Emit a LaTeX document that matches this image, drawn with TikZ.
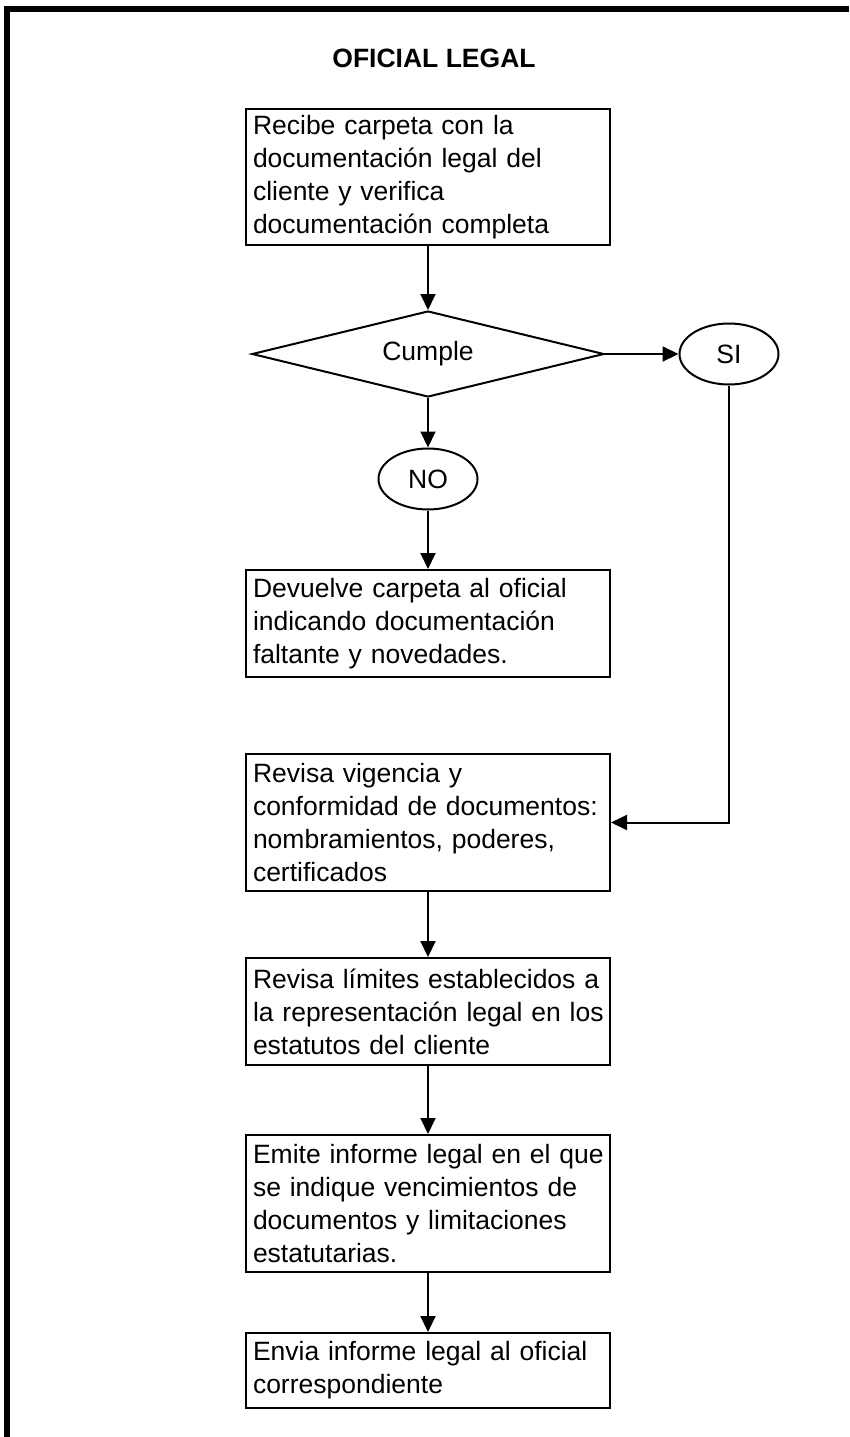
\documentclass[tikz,border=0pt]{standalone}
\usepackage{fontspec}
\setmainfont{Liberation Sans}
\usetikzlibrary{shapes.geometric,arrows.meta}
\newcommand\lin[1]{\mbox{#1}}
\begin{document}
\begin{tikzpicture}[x=1pt,y=-1pt,
  every node/.style={font=\fontsize{26.5}{33}\selectfont},
  stepbox/.style={draw,line width=2pt,minimum width=364pt,text width=350pt,align=left,inner sep=0pt,inner xsep=7pt},
  decide/.style={draw,diamond,line width=2pt,aspect=4.09,minimum width=352pt,minimum height=86pt,inner sep=0pt},
  answer/.style={draw,ellipse,line width=2pt,minimum width=99pt,minimum height=61pt,inner sep=0pt},
  conn/.style={line width=2pt,-{Triangle[length=16pt,width=15pt]}},
  plain/.style={line width=2pt}]
\useasboundingbox (0,0) rectangle (849,1437);
% frame
\fill (4,6) rectangle (849,12);
\fill (4,6) rectangle (10,1437);
\node[font=\fontsize{26.5}{33}\selectfont\bfseries] (title) at (434,58) {OFICIAL LEGAL};
\node[stepbox,minimum height=136pt] (b1) at (428,177) {\lin{Recibe carpeta con la}\\\lin{documentación legal del}\\\lin{cliente y verifica}\\\lin{documentación completa}};
\node[decide] (d) at (428,354) {Cumple};
\node[answer] (si) at (729,354) {SI};
\node[answer] (no) at (428,479) {NO};
\node[stepbox,minimum height=107pt] (b2) at (428,623.5) {\lin{Devuelve carpeta al oficial}\\\lin{indicando documentación}\\\lin{faltante y novedades.}};
\node[stepbox,minimum height=137pt] (b3) at (428,822.5) {\lin{Revisa vigencia y}\\\lin{conformidad de documentos:}\\\lin{nombramientos, poderes,}\\\lin{certificados}};
\node[stepbox,minimum height=107pt] (b4) at (428,1011.5) {\lin{Revisa límites establecidos a}\\\lin{la representación legal en los}\\\lin{estatutos del cliente}};
\node[stepbox,minimum height=137pt] (b5) at (428,1203.5) {\lin{Emite informe legal en el que}\\\lin{se indique vencimientos de}\\\lin{documentos y limitaciones}\\\lin{estatutarias.}};
\node[stepbox,minimum height=75pt] (b6) at (428,1370.5) {\lin{Envia informe legal al oficial}\\\lin{correspondiente}};
\draw[conn] (b1.south) -- (d.north);
\draw[conn] (d.east) -- (si.west);
\draw[conn] (d.south) -- (no.north);
\draw[conn] (no.south) -- (b2.north);
\draw[conn] (si.south) |- (b3.east);
\draw[conn] (b3.south) -- (b4.north);
\draw[conn] (b4.south) -- (b5.north);
\draw[conn] (b5.south) -- (b6.north);
\end{tikzpicture}
\end{document}
